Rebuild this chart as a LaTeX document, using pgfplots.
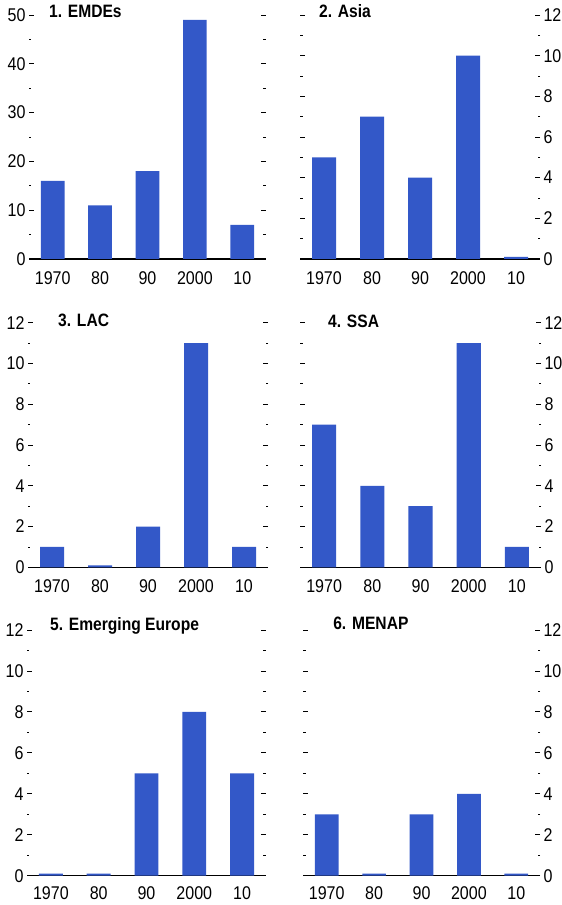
\documentclass[border=0pt]{standalone}
\usepackage{fontspec}
\setmainfont{Liberation Sans}[FakeStretch=0.87]
\usepackage{pgfplots}
\pgfplotsset{compat=1.18}
\definecolor{barblue}{HTML}{3358C8}
\pgfplotsset{
  panel/.style={
    scale only axis, anchor=south west,
    ybar, bar width=0.5,
    xmin=-0.5, xmax=4.5, ymin=0,
    xtick={0,1,2,3,4}, xticklabels={1970,80,90,2000,10},
    axis x line*=bottom, axis y line=box,
    separate axis lines,
    y axis line style={draw=none},
    x axis line style={black, line width=1.3bp},
    xtick style={draw=none},
    ytick pos=both,
    tick align=inside,
    major tick length=5bp, minor tick length=2.5bp,
    minor y tick num=1,
    ytick style={black, line width=0.8bp},
    /pgf/number format/assume math mode=true,
    tick label style={font=\fontsize{18.5}{18.5}\selectfont},
    xticklabel style={yshift=-9bp},
    title style={anchor=west, font=\fontsize{18}{18}\selectfont\bfseries, inner sep=0pt},
  },
  leftp/.style={panel, yticklabel pos=left},
  rightp/.style={panel, yticklabel pos=right},
  p12/.style={ymax=12, ytick={0,2,...,12}},
  lowrow/.style={xticklabel style={yshift=2bp}},
}
\begin{document}
\begin{tikzpicture}
\path[use as bounding box] (0,0) rectangle (562bp,905bp);

% Panel 1
\begin{axis}[leftp, at={(29bp,646bp)}, width=237bp, height=244bp,
  ymax=50, ytick={0,10,...,50},
  title={1. EMDEs}, title style={at={(rel axis cs:0.084,1)}, yshift=-2bp}]
\addplot[fill=barblue, draw=none] coordinates {(0,16) (1,11) (2,18) (3,49) (4,7)};
\end{axis}

% Panel 2
\begin{axis}[rightp, p12, at={(300bp,646bp)}, width=240bp, height=244bp,
  title={2. Asia}, title style={at={(rel axis cs:0.079,1)}, yshift=-2bp}]
\addplot[fill=barblue, draw=none] coordinates {(0,5) (1,7) (2,4) (3,10) (4,0.1)};
\end{axis}

% Panel 3
\begin{axis}[leftp, p12, at={(28bp,337.7bp)}, width=240bp, height=244.6bp,
  title={3. LAC}, title style={at={(rel axis cs:0.125,1)}, yshift=-3.5bp}]
\addplot[fill=barblue, draw=none] coordinates {(0,1) (1,0.1) (2,2) (3,11) (4,1)};
\end{axis}

% Panel 4
\begin{axis}[rightp, p12, at={(300bp,337.7bp)}, width=241bp, height=244.6bp,
  title={4. SSA}, title style={at={(rel axis cs:0.116,1)}, yshift=-4.5bp}]
\addplot[fill=barblue, draw=none] coordinates {(0,7) (1,4) (2,3) (3,11) (4,1)};
\end{axis}

% Panel 5
\begin{axis}[leftp, p12, lowrow, at={(27bp,29.3bp)}, width=239bp, height=245.7bp,
  title={5. Emerging Europe}, title style={at={(rel axis cs:0.096,1)}, yshift=-1.7bp}]
\addplot[fill=barblue, draw=none] coordinates {(0,0.1) (1,0.1) (2,5) (3,8) (4,5)};
\end{axis}

% Panel 6
\begin{axis}[rightp, p12, lowrow, at={(303bp,29.3bp)}, width=237bp, height=245.7bp,
  title={6. MENAP}, title style={at={(rel axis cs:0.127,1)}, yshift=1bp}]
\addplot[fill=barblue, draw=none] coordinates {(0,3) (1,0.1) (2,3) (3,4) (4,0.1)};
\end{axis}
\end{tikzpicture}
\end{document}
